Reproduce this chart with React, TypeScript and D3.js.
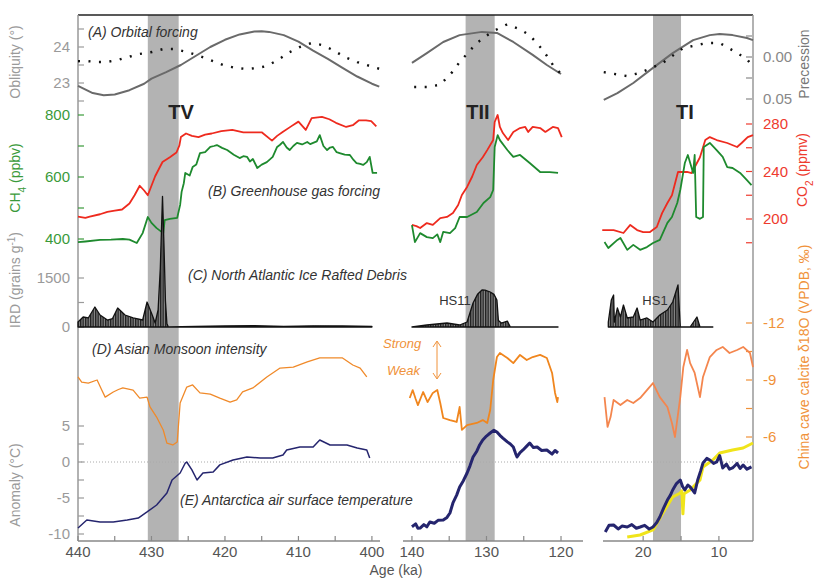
import React, { useEffect, useRef } from 'react';
import * as d3 from 'd3';

type Pt = [number, number];

// ---------- (A) orbital forcing: obliquity (deg) and precession index ----------
const oblTV: Pt[] = [[440,22.92],[438,22.72],[436.5,22.66],[435,22.68],[433,22.8],[431,22.98],[430,23.12],[428,23.3],[426,23.5],[424,23.75],[422,24.0],[420,24.2],[418,24.35],[416,24.43],[415,24.44],[414,24.42],[412,24.33],[410,24.15],[408,23.9],[406,23.67],[404,23.42],[402,23.18],[400,22.98],[399,22.9]];
const oblTII: Pt[] = [[140,23.56],[138,23.83],[135.8,24.14],[133.6,24.33],[130.6,24.42],[128.6,24.39],[126.4,24.14],[123.8,23.78],[121.9,23.5],[120,23.25]];
const oblTI: Pt[] = [[25.2,22.53],[23.4,22.72],[21.3,23.0],[18.7,23.42],[16.1,23.83],[13.4,24.19],[11.2,24.33],[9.9,24.36],[8.2,24.33],[6.3,24.25],[5.5,24.19]];

const precTV: Pt[] = [[440,0.005],[438.8,0.0048],[437.4,0.006],[436.1,0.006],[434.6,0.0036],[433.2,0],[431.6,-0.0036],[429.9,-0.006],[428.4,-0.0095],[426.8,-0.0095],[425.2,-0.006],[423.8,-0.0024],[422,0.0036],[420.3,0.0095],[418.6,0.013],[417,0.0143],[415.5,0.013],[414.3,0.0107],[412.8,0.0036],[411.4,-0.0048],[409.8,-0.0119],[408.2,-0.0167],[406.8,-0.0143],[405.3,-0.0083],[403.7,0],[402,0.006],[400.3,0.0107],[398.9,0.0143]];
const precTII: Pt[] = [[139.7,0.0357],[138,0.0357],[136.2,0.033],[134.6,0.018],[133.6,0.006],[132.5,-0.0048],[131.3,-0.0167],[129.3,-0.0298],[127.2,-0.039],[125.5,-0.033],[124.2,-0.026],[122.4,-0.008],[120.9,0.012],[120,0.02]];
const precTI: Pt[] = [[25.2,0.018],[22.2,0.0226],[20.4,0.019],[17.4,0.007],[14.7,-0.0107],[11.6,-0.0167],[9.9,-0.0167],[8.2,-0.008],[6.3,0.0024],[5.5,0.012]];

// ---------- (B) greenhouse gases: CO2 (ppmv), CH4 (ppbv) ----------
const co2TV: Pt[] = [[440,202],[439,201],[438.4,202],[437,204],[436,206],[435,207],[434,208],[433,213],[432.3,220],[431.6,228],[431,224],[430.5,220],[429.5,236],[428.5,248],[427.5,252],[426.6,256],[426.2,262],[426,269],[425.3,272],[424.5,270],[423.6,269],[422.7,271],[421.8,272],[420.5,274],[419,275],[417.5,273],[416.4,273],[415,273],[413.6,266],[412.9,270],[412.2,273],[411,278],[410,282],[409,275],[408.2,285],[406.8,286],[405.8,284],[404.9,281],[403.5,277.5],[402.6,279],[401.8,283],[400.8,283],[400.1,282.5],[399.4,278]];
const co2TII: Pt[] = [[140,195],[139.4,194],[138.9,192.4],[138,196.6],[137.2,195],[136.2,200.8],[135.3,201.7],[134.5,205],[133.8,211.8],[133.3,220.2],[132.6,227],[131.9,236],[131.3,245.5],[130.5,252],[129.9,258],[129.1,266.5],[128.9,281.7],[128.5,287.6],[128.2,277.5],[127.8,272.4],[127.1,266.5],[126.4,273.3],[125.5,276.6],[124.8,277.5],[124.4,273.3],[123.8,277.5],[122.8,276.6],[122.1,273.3],[121.1,277.5],[120.4,276.6],[119.9,269]];
const co2TI: Pt[] = [[25.4,190.7],[23.9,190.7],[22.6,188.2],[21.7,195],[20.8,190.7],[20,189],[19.1,189],[18.2,193.3],[17.5,205],[16.8,213.5],[16.2,220],[15.4,239.6],[14.2,239.6],[13.6,238.7],[12.5,252],[11.8,266.5],[11.2,269],[10.3,266.5],[8.9,264],[7.6,260.6],[7,264],[6.2,269],[5.5,270.7]];

const ch4TV: Pt[] = [[440,390],[439,392],[437,397],[435.5,398],[433.9,400],[433,398],[432,387],[431.2,419],[430.5,471],[430,452],[429.3,435],[428.4,419],[428.2,461],[427.5,465],[426.5,468],[426.1,510],[425.9,552],[425.6,580],[425.4,613],[424.8,605],[424.4,632],[423.9,640],[423.4,677],[422.7,680],[422,697],[421.5,700],[421.1,703],[420.4,694],[419.7,687],[418.8,672],[418,661],[417.5,667],[417,665],[416.6,650],[416.2,658],[415.6,629],[415,640],[414.3,648],[413.5,665],[412.9,697],[412.5,704],[412.1,713],[411.6,695],[411.2,687],[410.7,700],[410.2,710],[409.5,705],[408.8,713],[408.4,706],[408,710],[407.5,715],[407.1,735],[406.6,700],[406.1,687],[405.7,695],[405.3,697],[404.8,680],[404.4,677],[403.7,672],[403,671],[402.5,655],[402.1,645],[401.6,642],[401.2,639],[400.7,648],[400.3,665],[399.9,613],[399.3,613]];
const ch4TII: Pt[] = [[140,445],[139.6,390],[138.9,419],[138,406],[137.2,403],[136.6,415],[136.2,390],[135.8,423],[134.9,419],[134.2,435],[133.6,471],[132.6,471],[131.3,487],[130.4,516],[129.5,535],[129.1,558],[128.9,697],[128.5,735],[128.2,719],[127.2,687],[126.4,665],[125.5,671],[124.2,645],[122.8,616],[121.5,616],[120.4,613]];
const ch4TI: Pt[] = [[25.1,390],[24.6,371],[23.4,397],[23,403],[22.1,365],[21.3,381],[20.4,365],[19.5,374],[18.7,387],[17.8,397],[16.8,452],[16.2,471],[15.5,516],[15.1,558],[14.5,645],[14.1,671],[13.4,613],[13.2,671],[13.0,471],[12.5,465],[12.1,471],[12.0,697],[11.2,710],[10.3,687],[9.5,665],[8.9,632],[8.2,629],[7.2,613],[6.3,590],[5.7,574]];

// ---------- (C) North Atlantic IRD (grains/g) ----------
const irdTV: Pt[] = [[440,153],[439.3,306],[438.6,276],[437.7,612],[437,367],[436,214],[435.3,260],[434.6,582],[433.6,367],[432.5,276],[431.2,214],[430.6,765],[429.9,367],[429.5,122],[429.1,520],[428.8,1800],[428.5,4000],[428.3,2500],[428.1,800],[427.9,100],[427.7,0],[424,15],[420,30],[416,40],[412,20],[408,35],[404,30],[400,20]];
const irdTII: Pt[] = [[140,0],[138,61],[135.3,122],[133.6,61],[132.6,153],[131.8,735],[131.2,1000],[130.6,1133],[130.2,1130],[129.5,1071],[129,1000],[128.6,827],[128.4,200],[128,120],[127.2,180],[126.8,0],[120.4,0]];
const irdTI: Pt[] = [[24.6,153],[24.2,827],[23.9,980],[23.8,153],[23.4,582],[23,306],[22.6,673],[22.1,276],[21.3,306],[20.8,582],[20.4,214],[19.5,276],[18.7,153],[17.8,367],[16.8,520],[16.1,765],[15.4,1286],[15.1,0],[13.8,0],[12.9,306],[12.5,0],[10.8,0]];

// ---------- (D) Asian monsoon, cave calcite d18O (permil) ----------
const monTV: Pt[] = [[440,-9.16],[439.5,-8.89],[438.6,-8.84],[437.4,-9.0],[436.8,-8.5],[436.3,-8.1],[435.2,-8.37],[434.5,-8.5],[433.9,-8.58],[432.5,-8.47],[431.6,-8.05],[430.6,-8.1],[430.2,-7.58],[429.3,-7.05],[428.4,-6.37],[427.9,-5.68],[427.1,-5.58],[426.5,-5.74],[426.1,-7.79],[425.2,-8.63],[424.4,-8.74],[423.4,-8.32],[422,-8.26],[420.7,-8.05],[419.3,-7.84],[418.4,-7.95],[417.6,-8.37],[416.2,-8.58],[414.3,-9.16],[412.5,-9.63],[410.7,-9.68],[408.8,-9.95],[407.1,-10.16],[405.3,-10.16],[404,-10.16],[402.6,-9.79],[401.6,-9.63],[400.7,-9.16]];
const monTII: Pt[] = [[140.3,-8.05],[139.9,-8.47],[139.5,-8.0],[139.2,-7.68],[138.5,-8.37],[137.9,-7.84],[137.2,-8.32],[136.6,-8.47],[136.2,-7.79],[135.8,-7.0],[134.9,-6.89],[134,-6.79],[133.6,-7.58],[133.3,-6.37],[132.6,-6.63],[131.3,-6.74],[130.5,-6.89],[129.9,-6.74],[129.5,-7.42],[129.1,-9.0],[128.6,-10.21],[128.2,-10.42],[127.2,-10.16],[126.4,-9.89],[125.5,-10.32],[124.6,-10.05],[123.8,-10.21],[122.8,-10.32],[121.9,-10.16],[121.2,-9.37],[120.8,-8.32],[120.5,-7.84],[120.4,-8.1]];
const monTI: Pt[] = [[25.1,-8.1],[24.7,-6.53],[24.3,-7.05],[23.9,-7.95],[23,-7.68],[22.1,-7.95],[21.3,-7.79],[20.4,-8.05],[19.5,-8.47],[18.7,-8.84],[17.8,-8.1],[16.8,-7.58],[16.2,-6.74],[15.8,-6.0],[15.1,-8.1],[14.7,-9.68],[14.2,-10.58],[13.8,-9.89],[13.2,-9.37],[12.5,-8.1],[12.1,-9.16],[11.2,-10.21],[10.3,-10.58],[9.5,-10.74],[8.6,-10.42],[7.6,-10.58],[6.8,-10.74],[5.9,-10.42],[5.5,-9.68]];

// ---------- (E) Antarctic temperature anomaly (deg C) ----------
const tempTV: Pt[] = [[440,-9.17],[438.8,-8.06],[437,-8.33],[435.2,-8.33],[433.3,-8.06],[431.8,-7.78],[430.6,-6.94],[429.3,-5.97],[427.9,-4.3],[427.2,-2.5],[426.1,-1.53],[425.4,-0.14],[425.2,0],[424.5,-1.1],[423.8,-2.5],[423,-1.53],[421.6,-1.4],[420.7,-0.4],[418.9,0.28],[417,0.7],[415.2,0.56],[413.5,0.56],[412.1,0.97],[411.6,1.67],[409.8,2.08],[408,2.08],[407.1,3.06],[405.7,2.36],[403.4,2.36],[402,1.94],[400.7,1.67],[400.3,0.56]];
const tempTII: Pt[] = [[140,-9.0],[139.5,-8.6],[139.2,-9.2],[138.9,-9.17],[138.4,-8.7],[138,-9.0],[137.6,-8.33],[137,-8.5],[136.5,-8.1],[135.8,-8.06],[135.3,-7.7],[134.9,-7.08],[134.5,-5.69],[134,-4.6],[133.6,-3.47],[133.1,-2.6],[132.6,-1.53],[132.2,-0.5],[131.8,0.69],[131.3,1.5],[130.9,2.4],[130.5,3.06],[130,3.6],[129.5,4.03],[129,4.4],[128.6,4.17],[128.2,3.7],[127.8,3.33],[127.2,2.8],[126.8,2.5],[126.4,2.08],[126.1,1.2],[125.9,0.69],[125.5,1.3],[125.1,1.67],[124.6,2.2],[124.2,2.64],[123.7,2.0],[123.2,2.08],[122.6,1.6],[121.9,1.67],[121.2,1.1],[120.8,1.6],[120.4,1.25]];
const tempTI: Pt[] = [[25,-9.72],[24.5,-8.8],[23.9,-8.75],[23.3,-9.3],[22.8,-8.9],[22.1,-9.03],[21.5,-8.7],[20.9,-9.2],[20.4,-9.03],[19.8,-8.8],[19.2,-9.3],[18.7,-9.03],[18.2,-8.4],[17.8,-7.64],[17.3,-6.4],[16.8,-5.28],[16.4,-4.6],[16.1,-3.89],[15.6,-3.0],[15.1,-2.5],[14.8,-3.4],[14.5,-3.89],[14.1,-3.2],[13.8,-3.47],[13.4,-4.0],[13.2,-4.3],[12.8,-2.5],[12.4,-1.2],[12.1,-0.14],[11.6,0.5],[11.2,0.28],[10.7,-0.2],[10.3,0],[9.9,0.9],[9.5,-0.83],[9.0,-0.3],[8.6,-1.0],[8.2,-0.83],[7.6,-0.2],[7.2,-0.9],[6.8,-0.42],[6.3,-1.0],[5.7,-0.69]];
const tempTIb: Pt[] = [[22.1,-10.42],[20.4,-10.14],[18.7,-9.44],[17.4,-7.08],[16.1,-4.86],[15.1,-4.3],[14.9,-4.0],[14.75,-7.2],[14.6,-4.4],[13.8,-3.89],[12.5,-2.5],[12.1,-0.69],[10.8,0.28],[9.9,1.25],[8.2,1.67],[6.8,1.94],[5.5,2.64]];

// terminations (ka)
const bandTV = [430.5, 426.3];
const bandTII = [132.8, 128.9];
const bandTI = [18.7, 15.0];

const ageTicks = [[440,430,420,410,400],[140,130,120],[20,10]];
const ageMinor = [[435,425,415,405],[135,125],[15]];

function App() {
  const ref = useRef<SVGSVGElement>(null);

  useEffect(() => {
    d3.select(ref.current).selectAll('*').remove();
    draw();
  }, []);

  function draw() {
    const svg = d3.select(ref.current);
    const font = 'Liberation Sans, Arial, sans-serif';
    const L = 78, R = 753, TOP = 15, BOT = 541;

    const xs = [
      d3.scaleLinear().domain([440, 398.9]).range([78, 380]),
      d3.scaleLinear().domain([141.2, 117.05]).range([403, 583]),
      d3.scaleLinear().domain([25.3, 5.5]).range([603, 753]),
    ];

    const yObl = d3.scaleLinear().domain([23, 24]).range([83, 47]);
    const yPrec = d3.scaleLinear().domain([0, 0.05]).range([57, 99]);
    const yCh4 = d3.scaleLinear().domain([400, 800]).range([239, 115]);
    const yCo2 = d3.scaleLinear().domain([200, 280]).range([219, 124]);
    const yIrd = d3.scaleLinear().domain([0, 1500]).range([327, 278]);
    const yMon = d3.scaleLinear().domain([-12, -6]).range([323, 437]);
    const yTmp = d3.scaleLinear().domain([-10, 5]).range([534, 426]);

    const defs = svg.append('defs');
    const pat = defs.append('pattern').attr('id', 'hatch').attr('patternUnits', 'userSpaceOnUse')
      .attr('width', 2.5).attr('height', 4);
    pat.append('rect').attr('width', 2.5).attr('height', 4).attr('fill', '#8a8a8a');
    pat.append('line').attr('x1', 0.7).attr('x2', 0.7).attr('y1', 0).attr('y2', 4)
      .attr('stroke', '#111').attr('stroke-width', 1.2);

    // grey termination bands
    const bands = [bandTV, bandTII, bandTI];
    bands.forEach((b, i) => {
      const x0 = xs[i](b[0]), x1 = xs[i](b[1]);
      svg.append('rect').attr('x', x0).attr('y', TOP).attr('width', x1 - x0).attr('height', BOT - TOP)
        .attr('fill', '#b3b3b3');
    });

    // zero line of temperature
    svg.append('line').attr('x1', L).attr('x2', R).attr('y1', yTmp(0)).attr('y2', yTmp(0))
      .attr('stroke', '#aaa').attr('stroke-width', 1).attr('stroke-dasharray', '1,2');

    // frame
    svg.append('line').attr('x1', L).attr('x2', R).attr('y1', TOP).attr('y2', TOP)
      .attr('stroke', '#222').attr('stroke-width', 1.5);
    svg.append('line').attr('x1', L).attr('x2', L).attr('y1', TOP).attr('y2', BOT)
      .attr('stroke', '#999').attr('stroke-width', 1.5);
    svg.append('line').attr('x1', R).attr('x2', R).attr('y1', TOP).attr('y2', BOT)
      .attr('stroke', '#999').attr('stroke-width', 1.5);

    // bottom axes
    xs.forEach((x, i) => {
      const r = x.range();
      svg.append('line').attr('x1', r[0]).attr('x2', r[1]).attr('y1', BOT).attr('y2', BOT)
        .attr('stroke', '#888').attr('stroke-width', 1.5);
      ageTicks[i].concat(ageMinor[i]).forEach(t => {
        svg.append('line').attr('x1', x(t)).attr('x2', x(t)).attr('y1', BOT).attr('y2', BOT - 5)
          .attr('stroke', '#888').attr('stroke-width', 1.2);
      });
      ageTicks[i].forEach(t => {
        svg.append('text').attr('x', x(t)).attr('y', 557).attr('text-anchor', 'middle')
          .attr('font-family', font).attr('font-size', 15).attr('fill', '#555').text(t);
      });
    });
    svg.append('text').attr('x', 396).attr('y', 575).attr('text-anchor', 'middle')
      .attr('font-family', font).attr('font-size', 14).attr('fill', '#555').text('Age (ka)');

    // axis helpers
    function leftTicks(scale, all, labeled, color) {
      all.forEach(t => {
        svg.append('line').attr('x1', L).attr('x2', L + 6).attr('y1', scale(t)).attr('y2', scale(t))
          .attr('stroke', color).attr('stroke-width', 1.2);
      });
      labeled.forEach(t => {
        svg.append('text').attr('x', 70).attr('y', scale(t)).attr('dy', '0.35em').attr('text-anchor', 'end')
          .attr('font-family', font).attr('font-size', 15).attr('fill', color).text(t);
      });
    }
    function rightTicks(scale, all, labeled, color, fmt) {
      all.forEach(t => {
        svg.append('line').attr('x1', R - 7).attr('x2', R - 1).attr('y1', scale(t)).attr('y2', scale(t))
          .attr('stroke', color).attr('stroke-width', 1.2);
      });
      labeled.forEach(t => {
        svg.append('text').attr('x', 763).attr('y', scale(t)).attr('dy', '0.35em').attr('text-anchor', 'start')
          .attr('font-family', font).attr('font-size', 15).attr('fill', color).text(fmt ? fmt(t) : t);
      });
    }
    function title(x, y, color) {
      return svg.append('text').attr('transform', `translate(${x},${y}) rotate(-90)`).attr('text-anchor', 'middle')
        .attr('font-family', font).attr('font-size', 14).attr('fill', color);
    }

    const gray = '#9a9a9a', green = '#3a9a3a', red = '#ee3a2e', orange = '#f0923a';
    leftTicks(yObl, [24.5, 24, 23.5, 23, 22.5], [24, 23], gray);
    leftTicks(yCh4, [800, 700, 600, 500, 400], [800, 600, 400], green);
    leftTicks(yIrd, [1500, 750, 0], [1500, 0], gray);
    leftTicks(yTmp, [5, 2.5, 0, -2.5, -5, -7.5, -10], [5, 0, -5, -10], gray);

    rightTicks(yPrec, [-0.025, 0, 0.025, 0.05], [0, 0.05], '#888', d3.format('.2f'));
    rightTicks(yCo2, [280, 260, 240, 220, 200, 180], [280, 240, 200], red, null);
    rightTicks(yMon, [-12, -10.5, -9, -7.5, -6], [-12, -9, -6], orange, null);

    title(20, 62, gray).text('Obliquity (°)');
    const tCh4 = title(20, 178, green);
    tCh4.append('tspan').text('CH');
    tCh4.append('tspan').attr('baseline-shift', 'sub').attr('font-size', 10).text('4');
    tCh4.append('tspan').text(' (ppbv)');
    const tIrd = title(20, 280, gray);
    tIrd.append('tspan').text('IRD (grains g');
    tIrd.append('tspan').attr('baseline-shift', 'super').attr('font-size', 10).text('-1');
    tIrd.append('tspan').text(')');
    title(20, 485, gray).text('Anomaly (°C)');

    title(809, 64, '#777').text('Precession');
    const tCo2 = title(807, 170, red);
    tCo2.append('tspan').text('CO');
    tCo2.append('tspan').attr('baseline-shift', 'sub').attr('font-size', 10).text('2');
    tCo2.append('tspan').text(' (ppmv)');
    title(809, 357, orange).text('China cave calcite δ18O (VPDB, ‰)');

    // series
    function plot(data, x, y, color, w, dash) {
      const line = d3.line<Pt>().x(d => x(d[0])).y(d => y(d[1]));
      svg.append('path').datum(data).attr('d', line).attr('fill', 'none').attr('stroke', color)
        .attr('stroke-width', w).attr('stroke-linejoin', 'round').attr('stroke-dasharray', dash || null);
    }
    function ird(data, x) {
      const area = d3.area<Pt>().x(d => x(d[0])).y0(yIrd(0)).y1(d => yIrd(d[1]));
      svg.append('path').datum(data).attr('d', area).attr('fill', 'url(#hatch)')
        .attr('stroke', '#111').attr('stroke-width', 1.3).attr('stroke-linejoin', 'round');
    }

    const obl = [oblTV, oblTII, oblTI];
    const prec = [precTV, precTII, precTI];
    const co2 = [co2TV, co2TII, co2TI];
    const ch4 = [ch4TV, ch4TII, ch4TI];
    const irdS = [irdTV, irdTII, irdTI];
    const mon = [monTV, monTII, monTI];
    const tmp = [tempTV, tempTII, tempTI];
    const monColor = ['#f08a2a', '#f0861e', '#f4864e'];

    xs.forEach((x, i) => {
      plot(obl[i], x, yObl, '#6a6a6a', 2, null);
      plot(prec[i], x, yPrec, '#111', 2.4, '2,8.5');
      plot(co2[i], x, yCo2, '#ee2a1e', 1.8, null);
      plot(ch4[i], x, yCh4, '#1e8a2e', 1.8, null);
      ird(irdS[i], x);
      plot(mon[i], x, yMon, monColor[i], i === 0 ? 1.3 : 1.8, null);
      if (i === 2) plot(tempTIb, x, yTmp, '#f0e41a', 3, null);
      plot(tmp[i], x, yTmp, '#25256e', i === 0 ? 1.5 : 3, null);
    });

    // labels
    const lab = (x, y, t) => svg.append('text').attr('x', x).attr('y', y).attr('font-family', font)
      .attr('font-size', 14).attr('font-style', 'italic').attr('fill', '#333').text(t);
    lab(88, 37, '(A) Orbital forcing');
    lab(208, 196, '(B) Greenhouse gas forcing');
    lab(188, 280, '(C) North Atlantic Ice Rafted Debris');
    lab(92, 354, '(D) Asian Monsoon intensity');
    lab(180, 505, '(E) Antarctica air surface temperature');

    const term = (x, t) => svg.append('text').attr('x', x).attr('y', 119).attr('text-anchor', 'middle')
      .attr('font-family', font).attr('font-size', 20).attr('font-weight', 'bold').attr('fill', '#222').text(t);
    term(181, 'TV');
    term(478, 'TII');
    term(685, 'TI');

    const hs = (x, t) => svg.append('text').attr('x', x).attr('y', 305).attr('text-anchor', 'middle')
      .attr('font-family', font).attr('font-size', 13).attr('fill', '#333').text(t);
    hs(455, 'HS11');
    hs(655, 'HS1');

    svg.append('text').attr('x', 383).attr('y', 348).attr('font-family', font).attr('font-size', 13)
      .attr('font-style', 'italic').attr('fill', orange).text('Strong');
    svg.append('text').attr('x', 387).attr('y', 375).attr('font-family', font).attr('font-size', 13)
      .attr('font-style', 'italic').attr('fill', orange).text('Weak');
    svg.append('line').attr('x1', 437).attr('x2', 437).attr('y1', 342).attr('y2', 378)
      .attr('stroke', orange).attr('stroke-width', 1);
    svg.append('path').attr('d', 'M433,347 L437,341 L441,347 M433,373 L437,379 L441,373')
      .attr('fill', 'none').attr('stroke', orange).attr('stroke-width', 1);
  }

  return (
    <svg ref={ref} width={817} height={578}
      style={{ position: 'absolute', left: 0, top: 0, background: '#fff' }}></svg>
  );
}

export default App;
